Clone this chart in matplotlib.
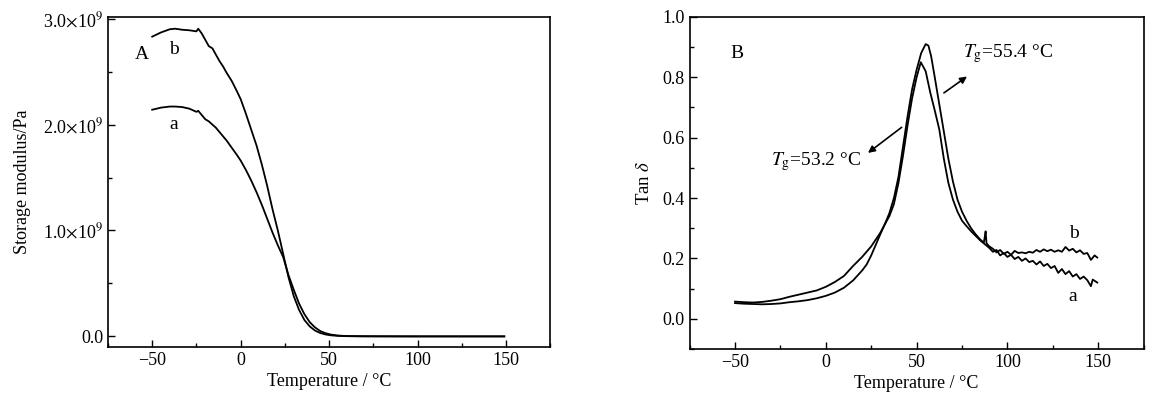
import matplotlib
matplotlib.use("Agg")
import matplotlib.pyplot as plt
from matplotlib.ticker import MultipleLocator, FuncFormatter

plt.rcParams["font.family"] = ["Liberation Serif", "DejaVu Serif"]
plt.rcParams["mathtext.fontset"] = "stix"

# ---- panel A: storage modulus (units of 1e9 Pa) ----
temp_sm = [-50, -45, -40, -37, -33, -29, -25, -24, -22, -20, -18, -16, -14, -12,
           -10, -8, -5, -2, 0, 3, 6, 9, 12, 15, 18, 21, 24, 27, 30, 33, 36, 39,
           42, 45, 48, 51, 55, 60, 70, 80, 100, 125, 149]
modulus_b = [2.83, 2.87, 2.90, 2.905, 2.895, 2.89, 2.88, 2.905, 2.86, 2.80, 2.74,
             2.72, 2.66, 2.60, 2.55, 2.49, 2.41, 2.31, 2.24, 2.10, 1.95, 1.80,
             1.62, 1.42, 1.20, 1.00, 0.78, 0.56, 0.38, 0.25, 0.155, 0.095, 0.055,
             0.032, 0.018, 0.010, 0.005, 0.002, 0.001, 0.0005, 0.0, 0.0, 0.0]
modulus_a = [2.14, 2.16, 2.17, 2.17, 2.165, 2.15, 2.12, 2.13, 2.09, 2.05, 2.03,
             2.00, 1.97, 1.93, 1.89, 1.85, 1.78, 1.71, 1.66, 1.57, 1.47, 1.36,
             1.24, 1.11, 0.98, 0.86, 0.75, 0.58, 0.44, 0.31, 0.21, 0.135, 0.085,
             0.05, 0.03, 0.017, 0.008, 0.003, 0.001, 0.0005, 0.0, 0.0, 0.0]

# ---- panel B: tan delta ----
temp_tan_a = [-50, -45, -40, -35, -30, -25, -20, -15, -10, -5, 0, 5, 10, 15, 20,
              25, 30, 32.4, 35, 37.5, 40, 42.5, 45, 47.5, 50, 52.3, 55, 57.5, 60,
              62.5, 65, 67.5, 70, 72.5, 75, 77.5, 80, 82.5, 85, 87,
              90, 92, 94, 96, 98, 100, 102, 104, 106, 108, 110, 112, 114, 116,
              118, 120, 122, 124, 126, 128, 130, 132, 134, 136, 138, 140, 142,
              144, 146, 147, 149.5]
tan_a = [0.057, 0.055, 0.054, 0.056, 0.060, 0.065, 0.073, 0.080, 0.087, 0.094,
         0.106, 0.122, 0.142, 0.175, 0.205, 0.240, 0.285, 0.312, 0.340, 0.380,
         0.450, 0.540, 0.640, 0.730, 0.800, 0.850, 0.820, 0.750, 0.690, 0.627,
         0.530, 0.450, 0.395, 0.355, 0.325, 0.307, 0.290, 0.275, 0.260, 0.250,
         0.235, 0.222, 0.228, 0.210, 0.218, 0.205, 0.212, 0.198, 0.205, 0.192,
         0.200, 0.188, 0.192, 0.180, 0.190, 0.175, 0.182, 0.168, 0.175, 0.152,
         0.165, 0.148, 0.158, 0.140, 0.148, 0.132, 0.140, 0.128, 0.108, 0.130,
         0.120]

temp_tan_b = [-50, -45, -40, -35, -30, -25, -20, -15, -10, -5, 0, 5, 10, 15, 20,
              22.5, 25, 27.5, 30, 32.4, 35, 37.5, 40, 42.5, 45, 47.5, 50, 52.5,
              55, 56.5, 58, 60, 62.5, 65, 67.5, 70, 72.5, 75, 77.5, 80, 82.5, 85,
              87, 87.5, 88, 88.5, 90, 92, 94, 96, 98, 100, 102, 104, 106, 108,
              110, 112, 114, 116, 118, 120, 122, 124, 126, 128, 130, 132, 134,
              136, 138, 140, 142, 144, 146, 148, 149.5]
tan_b = [0.052, 0.050, 0.049, 0.048, 0.049, 0.051, 0.055, 0.058, 0.062, 0.068,
         0.076, 0.087, 0.103, 0.127, 0.160, 0.180, 0.210, 0.245, 0.280, 0.312,
         0.350, 0.400, 0.470, 0.570, 0.670, 0.760, 0.825, 0.880, 0.910, 0.905,
         0.870, 0.800, 0.710, 0.620, 0.530, 0.455, 0.395, 0.355, 0.325, 0.300,
         0.280, 0.263, 0.252, 0.270, 0.290, 0.250, 0.240, 0.232, 0.220, 0.228,
         0.215, 0.222, 0.212, 0.225, 0.218, 0.220, 0.217, 0.222, 0.219, 0.228,
         0.222, 0.230, 0.224, 0.229, 0.222, 0.227, 0.222, 0.238, 0.226, 0.232,
         0.220, 0.227, 0.215, 0.218, 0.195, 0.210, 0.203]

x_ticks = [-50, 0, 50, 100, 150]

fig = plt.figure(figsize=(11.61, 4.03), dpi=100)
ax1 = fig.add_axes([0.093, 0.139, 0.381, 0.820])
ax2 = fig.add_axes([0.594, 0.134, 0.391, 0.824])

LW = 1.3
FS_TICK = 13
FS_LAB = 13
FS_TXT = 14

for ax in (ax1, ax2):
    for side in ("top", "right", "left", "bottom"):
        ax.spines[side].set_linewidth(1.2)
    ax.set_xlim(-75, 175)
    ax.set_xticks(x_ticks)
    ax.xaxis.set_minor_locator(MultipleLocator(25))
    ax.tick_params(which="both", direction="in", top=False, right=False,
                   labelsize=FS_TICK, width=1.0)
    ax.tick_params(which="major", length=5)
    ax.tick_params(which="minor", length=3)
    ax.set_xlabel("Temperature / °C", fontsize=FS_LAB, labelpad=3)

# panel A
ax1.plot(temp_sm, modulus_b, color="k", lw=LW)
ax1.plot(temp_sm, modulus_a, color="k", lw=LW)
ax1.set_ylim(-0.1, 3.02)
ax1.set_yticks([0, 1, 2, 3])
ax1.yaxis.set_minor_locator(MultipleLocator(0.5))


def sci_fmt(v, pos):
    if abs(v) < 1e-9:
        return "0.0"
    return r"%.1f$\times$10$^{9}$" % v


ax1.yaxis.set_major_formatter(FuncFormatter(sci_fmt))
ax1.set_ylabel("Storage modulus/Pa", fontsize=FS_LAB, labelpad=9)
ax1.text(-56, 2.66, "A", fontsize=FS_TXT, ha="center", va="center")
ax1.text(-37.8, 2.71, "b", fontsize=FS_TXT, ha="center", va="center")
ax1.text(-37.6, 2.00, "a", fontsize=FS_TXT, ha="center", va="center")

# panel B
ax2.plot(temp_tan_a, tan_a, color="k", lw=LW)
ax2.plot(temp_tan_b, tan_b, color="k", lw=LW)
ax2.set_ylim(-0.1, 1.0)
ax2.set_yticks([0.0, 0.2, 0.4, 0.6, 0.8, 1.0])
ax2.yaxis.set_major_formatter(FuncFormatter(lambda v, p: "%.1f" % v))
ax2.yaxis.set_minor_locator(MultipleLocator(0.1))
ax2.set_ylabel(r"Tan $\delta$", fontsize=FS_LAB + 0.5, labelpad=7)

ax2.text(-48.8, 0.879, "B", fontsize=FS_TXT, ha="center", va="center")
ax2.text(136.4, 0.284, "b", fontsize=FS_TXT, ha="center", va="center")
ax2.text(135.9, 0.074, "a", fontsize=FS_TXT, ha="center", va="center")

ax2.text(75.5, 0.88, r"$T_{\mathrm{g}}$=55.4 °C", fontsize=FS_TXT, ha="left", va="center")
ax2.annotate("", xy=(79, 0.808), xytext=(63.8, 0.743),
             arrowprops=dict(arrowstyle="-|>", color="k", lw=1.2, mutation_scale=10))
ax2.text(-30, 0.52, r"$T_{\mathrm{g}}$=53.2 °C", fontsize=FS_TXT, ha="left", va="center")
ax2.annotate("", xy=(22, 0.544), xytext=(43, 0.64),
             arrowprops=dict(arrowstyle="-|>", color="k", lw=1.2, mutation_scale=10))

fig.savefig("out.png", dpi=100)
